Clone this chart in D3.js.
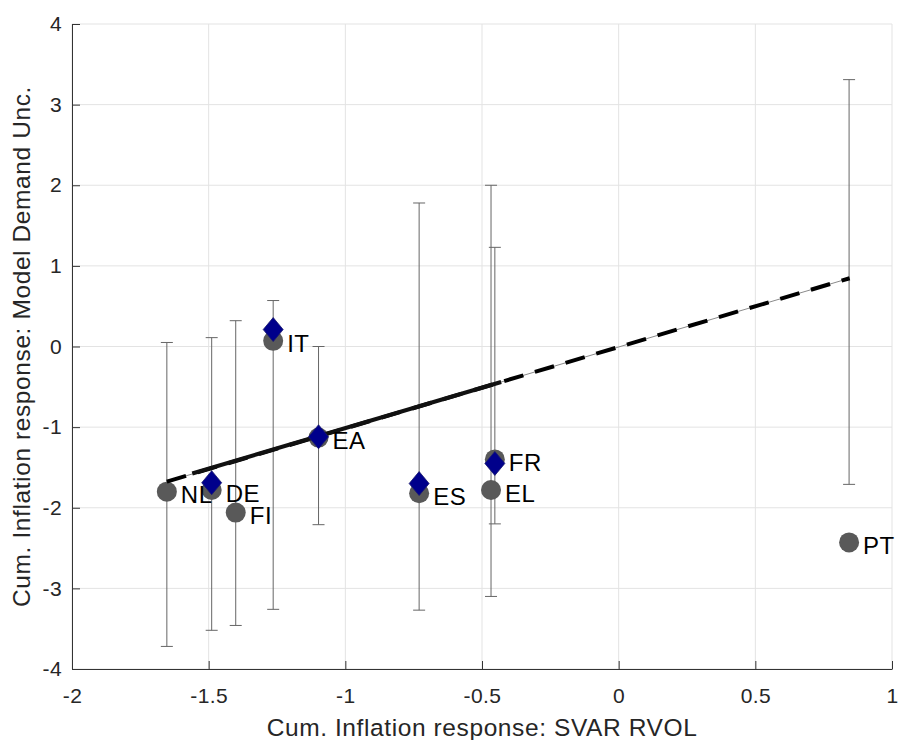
<!DOCTYPE html>
<html>
<head>
<meta charset="utf-8">
<script src="https://cdn.jsdelivr.net/npm/d3@7"></script>
<style>
  body { margin: 0; background: #fff; }
  svg text { font-family: "Liberation Sans", Arial, Helvetica, sans-serif; }
</style>
</head>
<body>
<div id="frame"></div>
<script>
// countries with the SVAR response (x), model response (y) and the band around it
const countries = ["NL", "DE", "FI", "IT", "EA", "ES", "FR", "EL", "PT"];
const svarX = [-1.653, -1.489, -1.401, -1.264, -1.098, -0.73, -0.453, -0.467, 0.843];
const modelY = [-1.8, -1.78, -2.06, 0.07, -1.13, -1.82, -1.4, -1.78, -2.43];
const bandHi = [0.05, 0.11, 0.32, 0.57, 0.0, 1.78, 1.23, 2.0, 3.31];
const bandLo = [-3.72, -3.52, -3.46, -3.26, -2.21, -3.27, -2.2, -3.1, -1.71];

// second estimate, only for some countries (blue diamonds)
const altCountries = ["DE", "IT", "EA", "ES", "FR"];
const altY = [-1.69, 0.21, -1.12, -1.7, -1.45];

// fitted lines
const fitAllX = [-1.653, 0.845];
const fitAllY = [-1.675, 0.847];
const fitAltX = [-1.56, -0.43];
const fitAltY = [-1.575, -0.44];

const xTicks = [-2, -1.5, -1, -0.5, 0, 0.5, 1];
const yTicks = [-4, -3, -2, -1, 0, 1, 2, 3, 4];

const width = 898,
  height = 740;
const margin = { top: 24, right: 6, bottom: 71, left: 72 };

const x = d3.scaleLinear().domain([-2, 1]).range([margin.left, width - margin.right]);
const y = d3.scaleLinear().domain([-4, 4]).range([height - margin.bottom, margin.top]);

const svg = d3
  .select("#frame")
  .append("svg")
  .attr("width", width)
  .attr("height", height);

// grid
svg
  .append("g")
  .attr("stroke", "#e3e3e3")
  .attr("stroke-width", 1)
  .call((g) =>
    g
      .selectAll("line.v")
      .data(xTicks)
      .join("line")
      .attr("x1", (d) => x(d))
      .attr("x2", (d) => x(d))
      .attr("y1", y(-4))
      .attr("y2", y(4))
  )
  .call((g) =>
    g
      .selectAll("line.h")
      .data(yTicks)
      .join("line")
      .attr("class", "h")
      .attr("x1", x(-2))
      .attr("x2", x(1))
      .attr("y1", (d) => y(d))
      .attr("y2", (d) => y(d))
  );

// axes (box off, ticks pointing in)
const xAxis = svg
  .append("g")
  .attr("transform", `translate(0,${y(-4)})`)
  .call(
    d3.axisBottom(x).tickValues(xTicks).tickSize(-8).tickSizeOuter(0).tickPadding(19)
      .tickFormat((d) => String(d))
  );
const yAxis = svg
  .append("g")
  .attr("transform", `translate(${x(-2)},0)`)
  .call(
    d3.axisLeft(y).tickValues(yTicks).tickSize(-8).tickSizeOuter(0).tickPadding(10)
      .tickFormat((d) => String(d))
  );
[xAxis, yAxis].forEach((a) => {
  a.select(".domain").attr("stroke", "#333");
  a.selectAll(".tick line").attr("stroke", "#333");
  a.selectAll(".tick text")
    .attr("fill", "#262626")
    .style("font-size", "21px")
    .style("letter-spacing", "0.4px")
    .style("font-family", '"Liberation Sans", Arial, sans-serif');
});
xAxis.selectAll(".tick text").attr("dy", "0.71em");

// error bands
const bars = svg.append("g").attr("stroke", "#666").attr("stroke-width", 1);
countries.forEach((c, i) => {
  const cx = x(svarX[i]);
  bars.append("line").attr("x1", cx).attr("x2", cx).attr("y1", y(bandHi[i])).attr("y2", y(bandLo[i]));
  bars.append("line").attr("x1", cx - 6).attr("x2", cx + 6).attr("y1", y(bandHi[i])).attr("y2", y(bandHi[i]));
  bars.append("line").attr("x1", cx - 6).attr("x2", cx + 6).attr("y1", y(bandLo[i])).attr("y2", y(bandLo[i]));
});

// gray dots
svg
  .append("g")
  .selectAll("circle")
  .data(countries)
  .join("circle")
  .attr("cx", (d, i) => x(svarX[i]))
  .attr("cy", (d, i) => y(modelY[i]))
  .attr("r", 10)
  .attr("fill", "#595959");

// fitted lines: thin line under a thick dashed one, plus solid one on the diamond range
const line = d3.line().x((d) => x(d[0])).y((d) => y(d[1]));
const allPts = d3.zip(fitAllX, fitAllY);
const altPts = d3.zip(fitAltX, fitAltY);
svg.append("path").attr("d", line(allPts)).attr("fill", "none").attr("stroke", "#8a8a8a").attr("stroke-width", 1);
svg.append("path").attr("d", line(allPts)).attr("fill", "none").attr("stroke", "#000")
  .attr("stroke-width", 4).attr("stroke-dasharray", "20,12");
svg.append("path").attr("d", line(altPts)).attr("fill", "none").attr("stroke", "#111")
  .attr("stroke-width", 4);

// blue diamonds
svg
  .append("g")
  .selectAll("path")
  .data(altCountries)
  .join("path")
  .attr("transform", (d, i) => `translate(${x(svarX[countries.indexOf(d)])},${y(altY[i])})`)
  .attr("d", "M0,-12L10,0L0,12L-10,0Z")
  .attr("fill", "#00008b")
  .attr("stroke", "#1a1a6e")
  .attr("stroke-width", 0.8);

// country labels
svg
  .append("g")
  .selectAll("text")
  .data(countries)
  .join("text")
  .attr("x", (d, i) => x(svarX[i]) + 14)
  .attr("y", (d, i) => y(modelY[i]) + 3)
  .attr("dy", "0.36em")
  .attr("fill", "#000")
  .style("font-size", "24px")
  .style("letter-spacing", "0.5px")
  .text((d) => d);

// axis titles
svg
  .append("text")
  .attr("x", (x(-2) + x(1)) / 2)
  .attr("y", 736)
  .attr("text-anchor", "middle")
  .attr("fill", "#262626")
  .style("font-size", "24.5px")
  .style("letter-spacing", "0.6px")
  .text("Cum. Inflation response: SVAR RVOL");
svg
  .append("text")
  .attr("transform", `translate(30,${(y(-4) + y(4)) / 2}) rotate(-90)`)
  .attr("text-anchor", "middle")
  .attr("fill", "#262626")
  .style("font-size", "24.5px")
  .style("letter-spacing", "0.6px")
  .text("Cum. Inflation response: Model Demand Unc.");
</script>
</body>
</html>
